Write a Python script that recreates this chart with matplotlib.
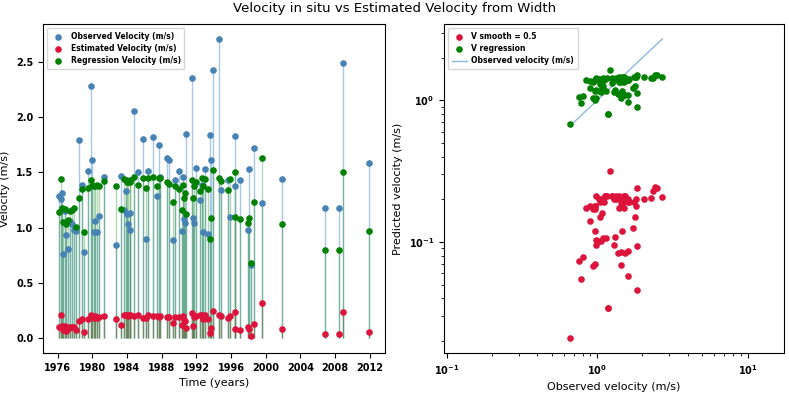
import matplotlib
matplotlib.use("Agg")
import matplotlib.pyplot as plt
import numpy as np

# ---- data ----
years = [1976.12, 1976.38, 1976.54, 1976.65, 1976.81, 1977.00, 1977.23, 1977.46, 1977.69, 1977.92,
         1978.12, 1978.46, 1978.81, 1979.08, 1979.46, 1979.85, 1980.00, 1980.15, 1980.35, 1980.54,
         1980.81, 1981.35, 1982.77, 1983.27, 1983.65, 1983.85, 1984.00, 1984.15, 1984.31, 1984.38,
         1984.85, 1985.23, 1985.85, 1986.19, 1986.46, 1986.96, 1987.42, 1987.65, 1987.85, 1988.65,
         1988.88, 1989.35, 1989.58, 1990.04, 1990.31, 1990.50, 1990.62, 1990.69, 1990.85, 1991.50,
         1991.58, 1991.77, 1991.92, 1992.42, 1992.62, 1992.77, 1992.96, 1993.31, 1993.54, 1993.69,
         1993.88, 1994.62, 1994.88, 1995.62, 1995.85, 1996.42, 1996.50, 1997.08, 1997.96, 1998.08,
         1998.35, 1998.62, 1999.54, 2001.88, 2006.81, 2008.42, 2008.85, 2011.95]

v_observed = [1.29, 1.26, 1.31, 0.76, 1.15, 0.93, 0.81, 1.06, 1.03, 0.98,
              0.97, 1.79, 1.39, 0.78, 1.51, 2.28, 1.61, 0.96, 1.06, 0.96,
              1.11, 1.46, 0.84, 1.47, 1.16, 1.33, 1.12, 1.03, 0.98, 1.13,
              2.06, 1.50, 1.80, 0.90, 1.51, 1.82, 1.29, 1.75, 1.46, 1.63,
              1.61, 0.89, 1.43, 1.51, 0.97, 1.46, 1.08, 1.04, 1.85, 2.36,
              1.09, 1.04, 1.54, 1.25, 1.39, 0.96, 1.53, 0.94, 1.84, 1.61,
              2.43, 2.71, 1.34, 1.43, 1.10, 1.83, 1.38, 1.43, 0.98, 1.53,
              0.66, 1.72, 1.22, 1.44, 1.18, 1.18, 2.49, 1.59]

v_estimated = [0.096, 0.21, 0.109, 0.073, 0.107, 0.068, 0.078, 0.101, 0.102, 0.104,
               0.070, 0.15, 0.175, 0.055, 0.175, 0.205, 0.20, 0.18, 0.20, 0.18,
               0.19, 0.20, 0.175, 0.12, 0.21, 0.21, 0.21, 0.20, 0.21, 0.21,
               0.20, 0.21, 0.18, 0.18, 0.21, 0.20, 0.20, 0.19, 0.20, 0.19,
               0.19, 0.14, 0.19, 0.19, 0.12, 0.20, 0.16, 0.15, 0.094, 0.23,
               0.107, 0.19, 0.20, 0.21, 0.21, 0.17, 0.21, 0.17, 0.046, 0.087,
               0.245, 0.208, 0.20, 0.18, 0.20, 0.24, 0.083, 0.069, 0.096, 0.084,
               0.021, 0.125, 0.315, 0.085, 0.034, 0.034, 0.24, 0.058]

v_regression = [1.14, 1.44, 1.18, 1.05, 1.17, 1.03, 1.07, 1.15, 1.16, 1.18,
                1.01, 1.27, 1.35, 0.96, 1.36, 1.43, 1.39, 1.38, 1.38, 1.39,
                1.38, 1.42, 1.38, 1.17, 1.44, 1.43, 1.41, 1.41, 1.43, 1.41,
                1.46, 1.39, 1.45, 1.36, 1.45, 1.46, 1.38, 1.45, 1.45, 1.41,
                1.40, 1.23, 1.38, 1.35, 1.16, 1.39, 1.27, 1.31, 1.12, 1.43,
                1.27, 1.38, 1.41, 1.33, 1.45, 1.38, 1.44, 1.35, 0.90, 1.09,
                1.52, 1.45, 1.42, 1.34, 1.44, 1.50, 1.10, 1.08, 1.04, 1.09,
                0.68, 1.23, 1.63, 1.03, 0.80, 0.80, 1.50, 0.97]

C_OBS = "#4682b4"
C_EST = "#dc143c"
C_REG = "#008000"

t = np.array(years)
obs = np.array(v_observed)
est = np.array(v_estimated)
reg = np.array(v_regression)

fig = plt.figure(figsize=(7.89, 3.93), dpi=100)
ax1 = fig.add_axes([0.0545, 0.1018, 0.4335, 0.8372])
ax2 = fig.add_axes([0.5627, 0.1018, 0.4310, 0.8372])

# left panel
ax1.vlines(t, 0, obs, color="#a9c8e6", lw=1, zorder=1)
ax1.vlines(t, 0, reg, color=C_REG, alpha=0.3, lw=1, zorder=2)
ax1.vlines(t, 0, est, color="#6b6b3a", alpha=0.5, lw=1, zorder=3)
ax1.scatter(t, obs, s=14, color=C_OBS, zorder=4, label="Observed Velocity (m/s)")
ax1.scatter(t, est, s=14, color=C_EST, zorder=5, label="Estimated Velocity (m/s)")
ax1.scatter(t, reg, s=14, color=C_REG, zorder=5, label="Regression Velocity (m/s)")
ax1.set_xticks(np.arange(1976, 2013, 4))
ax1.set_yticks(np.arange(0, 2.51, 0.5))
for lab in ax1.get_xticklabels() + ax1.get_yticklabels():
    lab.set_fontweight("bold")
    lab.set_fontsize(7)
ax1.set_xlabel("Time (years)", fontsize=8)
ax1.set_ylabel("Velocity (m/s)", fontsize=8)
ax1.legend(loc="upper left", prop={"weight": "bold", "size": 5.5}, handletextpad=0.6,
           borderpad=0.5, labelspacing=0.45)

# right panel
ax2.scatter(obs, est, s=14, color=C_EST, label="V smooth = 0.5", zorder=3)
ax2.scatter(obs, reg, s=14, color=C_REG, label="V regression", zorder=3)
order = np.argsort(obs)
ax2.plot(obs[order], obs[order], color="#8fb8df", lw=1, label="Observed velocity (m/s)", zorder=2)
ax2.set_xscale("log")
ax2.set_yscale("log")
ax2.set_xlim(0.0955, 17.5)
for lab in ax2.get_xticklabels() + ax2.get_yticklabels():
    lab.set_fontweight("bold")
    lab.set_fontsize(7)
ax2.tick_params(labelsize=7)
ax2.set_xlabel("Observed velocity (m/s)", fontsize=8)
ax2.set_ylabel("Predicted velocity (m/s)", fontsize=8)
ax2.legend(loc="upper left", prop={"weight": "bold", "size": 5.5}, handletextpad=0.6,
           borderpad=0.5, labelspacing=0.45)

fig.suptitle("Velocity in situ vs Estimated Velocity from Width", fontsize=9.5, y=0.995)

fig.savefig("out.png", dpi=100)
